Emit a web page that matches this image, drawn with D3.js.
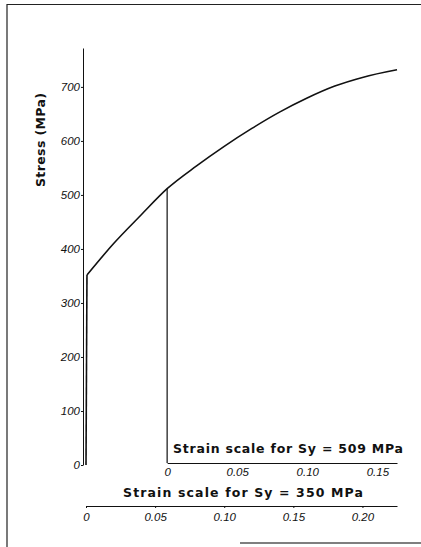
<!DOCTYPE html>
<head>
    <meta charset=utf-8>
    <title>Stress strain</title>
    <script src="https://d3js.org/d3.v7.min.js"></script>
    <style>
        body { margin: 0; background: #fff; }
        .num { font-family: "Liberation Sans", sans-serif; font-style: italic; font-size: 11.5px; fill: #111; }
        .ttl { font-family: "DejaVu Sans", sans-serif; font-weight: bold; font-size: 12.5px; fill: #111; }
        .domain, .tick line { stroke: #111; }
    </style>
</head>
<body>
    <script type="text/javascript">
        // elastic part of the curve (strain on the Sy = 350 MPa scale)
        var elasticStrain = [0, 0.0007],
            elasticStress = [0, 350];

        // plastic part
        var strain = [0.0007, 0.02, 0.04, 0.0587, 0.08, 0.10, 0.12, 0.14, 0.16, 0.18, 0.20, 0.225],
            stress = [350, 408, 461, 509, 551, 587, 620, 650, 676, 698, 714, 728];

        var stressTicks = [0, 100, 200, 300, 400, 500, 600, 700],
            strainTicks350 = [0, 0.05, 0.10, 0.15, 0.20],
            strainTicks509 = [0, 0.05, 0.10, 0.15],
            tickLabels350 = ["0", "0.05", "0.10", "0.15", "0.20"],
            tickLabels509 = ["0", "0.05", "0.10", "0.15"];

        var offset509 = 0.0587;   // strain at which stress reaches 509 MPa

        var svg_dx = 421, svg_dy = 547;

        var svg = d3.select("body").append("svg")
            .attr("width", svg_dx)
            .attr("height", svg_dy);

        var y = d3.scaleLinear().domain([0, 700]).range([465, 85]),
            x350 = d3.scaleLinear().domain([0, 0.225]).range([86, 397]),
            x509 = d3.scaleLinear().domain([0, 0.164]).range([x350(offset509), 397]);

        // page frame
        svg.append("path")
            .attr("d", "M7,547 L7,4.5 L421,4.5")
            .attr("fill", "none").attr("stroke", "#222").attr("stroke-width", 1.2);
        svg.append("line")
            .attr("x1", 240).attr("x2", 421).attr("y1", 543).attr("y2", 543)
            .attr("stroke", "#555").attr("stroke-width", 1.5);

        // stress axis
        var yAxisScale = y.copy().domain([0, 772]).range([465, 48]);
        var ax_y = svg.append("g")
            .attr("transform", "translate(83,0)")
            .call(d3.axisLeft(yAxisScale).tickValues(stressTicks).tickSize(2).tickSizeOuter(0).tickPadding(1));
        ax_y.selectAll("text").attr("class", "num").attr("font-size", null).attr("font-family", null);

        svg.append("text")
            .attr("class", "ttl")
            .attr("font-size", "11px")
            .attr("transform", "translate(45,140) rotate(-90)")
            .attr("text-anchor", "middle")
            .attr("textLength", 94)
            .text("Stress (MPa)");

        // the curve
        svg.append("path")
            .attr("d", d3.line()
                .x(function(d, i) { return x350(elasticStrain[i]); })
                .y(function(d, i) { return y(elasticStress[i]); })(elasticStrain))
            .attr("fill", "none")
            .attr("stroke", "#111")
            .attr("stroke-width", 1.6);

        svg.append("path")
            .attr("d", d3.line()
                .x(function(d, i) { return x350(strain[i]); })
                .y(function(d, i) { return y(stress[i]); })
                .curve(d3.curveMonotoneX)(strain))
            .attr("fill", "none")
            .attr("stroke", "#111")
            .attr("stroke-width", 1.6);

        // strain axis for Sy = 509 MPa
        svg.append("line")
            .attr("x1", x509(0)).attr("x2", x509(0))
            .attr("y1", y(509)).attr("y2", 463)
            .attr("stroke", "#111").attr("stroke-width", 1.2);

        var ax509 = svg.append("g")
            .attr("transform", "translate(0,463)")
            .call(d3.axisBottom(x509).tickValues(strainTicks509)
                .tickFormat(function(d, i) { return tickLabels509[i]; })
                .tickSize(0).tickSizeOuter(0).tickPadding(5));
        ax509.selectAll("text").attr("class", "num").attr("font-size", null).attr("font-family", null);

        svg.append("text")
            .attr("class", "ttl")
            .attr("x", 173).attr("y", 453)
            .attr("textLength", 230)
            .text("Strain scale for Sy = 509 MPa");

        // strain axis for Sy = 350 MPa
        var ax350 = svg.append("g")
            .attr("transform", "translate(0,506)")
            .call(d3.axisBottom(x350).tickValues(strainTicks350)
                .tickFormat(function(d, i) { return tickLabels350[i]; })
                .tickSize(2).tickSizeOuter(0).tickPadding(5));
        ax350.selectAll("text").attr("class", "num").attr("font-size", null).attr("font-family", null);

        svg.append("text")
            .attr("class", "ttl")
            .attr("x", 123).attr("y", 497)
            .attr("textLength", 240)
            .text("Strain scale for Sy = 350 MPa");
    </script>
</body>
